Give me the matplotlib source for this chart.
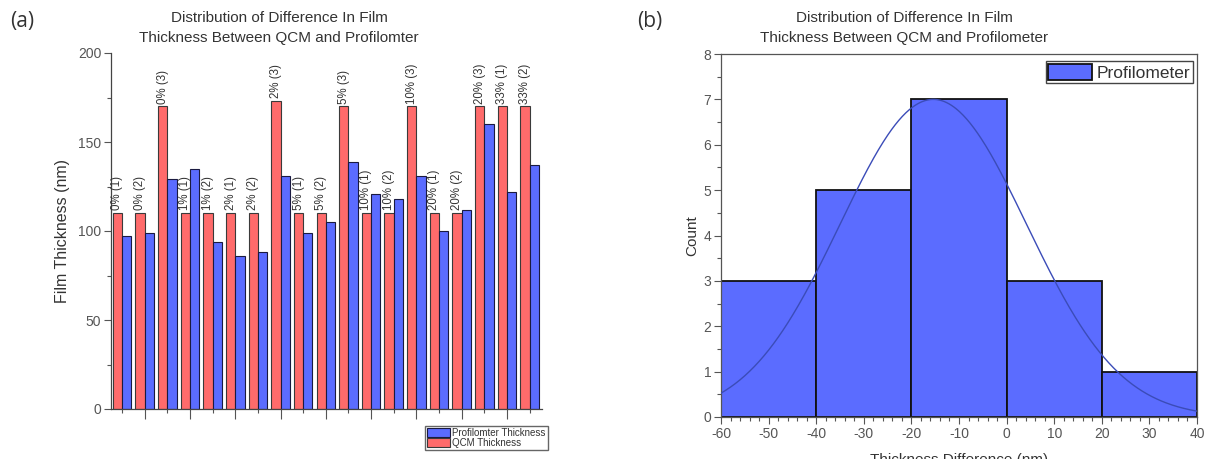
import numpy as np
import matplotlib
matplotlib.use("Agg")
import matplotlib.pyplot as plt
from matplotlib.ticker import MultipleLocator, FixedLocator, NullFormatter

plt.rcParams['font.family'] = ['Liberation Sans', 'DejaVu Sans']
plt.rcParams['axes.unicode_minus'] = False

# ---- panel (a): film thickness per sample ----
sample_labels = ["0% (1)", "0% (2)", "0% (3)", "1% (1)", "1% (2)", "2% (1)", "2% (2)",
                 "2% (3)", "5% (1)", "5% (2)", "5% (3)", "10% (1)", "10% (2)", "10% (3)",
                 "20% (1)", "20% (2)", "20% (3)", "33% (1)", "33% (2)"]
qcm_thickness = [110, 110, 170, 110, 110, 110, 110, 173, 110, 110, 170, 110, 110, 170,
                 110, 110, 170, 170, 170]
profilometer_thickness = [97, 99, 129, 135, 94, 86, 88, 131, 99, 105, 139, 121, 118, 131,
                          100, 112, 160, 122, 137]

# ---- panel (b): histogram of thickness differences ----
bin_edges = [-60, -40, -20, 0, 20, 40]
bin_counts = [3, 5, 7, 3, 1]
fit_mean = -15.4
fit_sd = 19.6
fit_peak = 7.0

RED = "#ff6b6b"
BLUE = "#5b6cff"
TXT = "#333333"
TICK = "#555555"

fig = plt.figure(figsize=(12.10, 4.59), dpi=100)
W, H = 1210, 459

def axes_px(l, t, r, b):
    return fig.add_axes([l / W, 1 - b / H, (r - l) / W, (b - t) / H])

# ---------------- (a) ----------------
ax1 = axes_px(111, 53, 542, 409)
x = np.arange(len(sample_labels))
w = 0.41
ax1.bar(x - w / 2, qcm_thickness, w, color=RED, edgecolor="#3a3a3a", linewidth=0.8,
        label="QCM Thickness", zorder=2)
ax1.bar(x + w / 2, profilometer_thickness, w, color=BLUE, edgecolor="#1a1a40", linewidth=0.8,
        label="Profilomter Thickness", zorder=2)
for xi, lab, v in zip(x, sample_labels, qcm_thickness):
    ax1.annotate(lab, (xi - w / 2, v), xytext=(0, 2), textcoords="offset points",
                 rotation=90, ha="center", va="bottom", fontsize=8.3, color=TXT)

ax1.set_xlim(-0.49, 18.55)
ax1.set_ylim(0, 200)
for s in ("top", "right"):
    ax1.spines[s].set_visible(False)
for s in ("left", "bottom"):
    ax1.spines[s].set_color("#444444")
    ax1.spines[s].set_linewidth(0.9)
ax1.yaxis.set_major_locator(MultipleLocator(50))
ax1.yaxis.set_minor_locator(MultipleLocator(25))
ax1.xaxis.set_major_locator(FixedLocator(x[1::2]))
ax1.xaxis.set_minor_locator(FixedLocator(x[0::2]))
ax1.xaxis.set_major_formatter(NullFormatter())
ax1.tick_params(axis="y", which="major", length=5, width=0.8, color=TICK,
                labelsize=10, labelcolor=TICK, pad=2)
ax1.tick_params(axis="y", which="minor", length=3, width=0.8, color=TICK)
ax1.tick_params(axis="x", which="major", length=7, width=0.8, color=TICK)
ax1.tick_params(axis="x", which="minor", length=3, width=0.8, color=TICK)
ax1.set_ylabel("Film Thickness (nm)", fontsize=11.5, color=TXT, labelpad=6)

handles, labels = ax1.get_legend_handles_labels()
fig.legend(handles[::-1], labels[::-1], loc="upper left",
           bbox_to_anchor=(425 / W, 1 - 426 / H), fontsize=7, frameon=True,
           fancybox=False, edgecolor="#666666", framealpha=1, borderpad=0.2,
           handlelength=2.4, handleheight=1.1, handletextpad=0.2, labelspacing=0.0,
           borderaxespad=0, labelcolor=TXT)

fig.text(279 / W, 1 - 28 / H,
         "Distribution of Difference In Film\nThickness Between QCM and Profilomter",
         ha="center", va="center", fontsize=11, color=TXT, linespacing=1.5)
fig.text(10 / W, 1 - 21 / H, "(a)", ha="left", va="center", fontsize=15, color=TXT,
         family=["Open Sans", "DejaVu Sans"])

# ---------------- (b) ----------------
ax2 = axes_px(721, 54, 1197, 417)
edges = np.array(bin_edges, dtype=float)
ax2.bar(edges[:-1], bin_counts, width=np.diff(edges), align="edge", color=BLUE,
        edgecolor="#111111", linewidth=1.3, label="Profilometer", zorder=2)
xc = np.linspace(-60, 40, 400)
ax2.plot(xc, fit_peak * np.exp(-0.5 * ((xc - fit_mean) / fit_sd) ** 2),
         color="#3b4cb8", linewidth=1.0, zorder=3)
ax2.set_xlim(-60, 40)
ax2.set_ylim(0, 8)
for s in ax2.spines.values():
    s.set_color("#555555")
    s.set_linewidth(0.9)
ax2.xaxis.set_major_locator(MultipleLocator(10))
ax2.xaxis.set_minor_locator(MultipleLocator(2))
ax2.yaxis.set_major_locator(MultipleLocator(1))
ax2.yaxis.set_minor_locator(MultipleLocator(0.5))
ax2.tick_params(which="major", length=5, width=0.8, color=TICK, labelsize=10,
                labelcolor=TICK, pad=2)
ax2.tick_params(which="minor", length=3, width=0.8, color=TICK)
ax2.set_ylabel("Count", fontsize=11, color=TXT, labelpad=3)
ax2.set_xlabel("Thickness Difference (nm)", fontsize=11, color=TXT, labelpad=9)
ax2.legend(loc="upper right", bbox_to_anchor=(1193 / W, 1 - 61 / H),
           bbox_transform=fig.transFigure, fontsize=12.5, frameon=True, fancybox=False,
           edgecolor="#444444", framealpha=1, borderpad=0.15, handlelength=2.5,
           handleheight=1.1, handletextpad=0.3, borderaxespad=0, labelcolor=TXT)

fig.text(904 / W, 1 - 28 / H,
         "Distribution of Difference In Film\nThickness Between QCM and Profilometer",
         ha="center", va="center", fontsize=11, color=TXT, linespacing=1.5)
fig.text(637 / W, 1 - 21 / H, "(b)", ha="left", va="center", fontsize=15, color=TXT,
         family=["Open Sans", "DejaVu Sans"])

fig.savefig("out.png", dpi=100)
